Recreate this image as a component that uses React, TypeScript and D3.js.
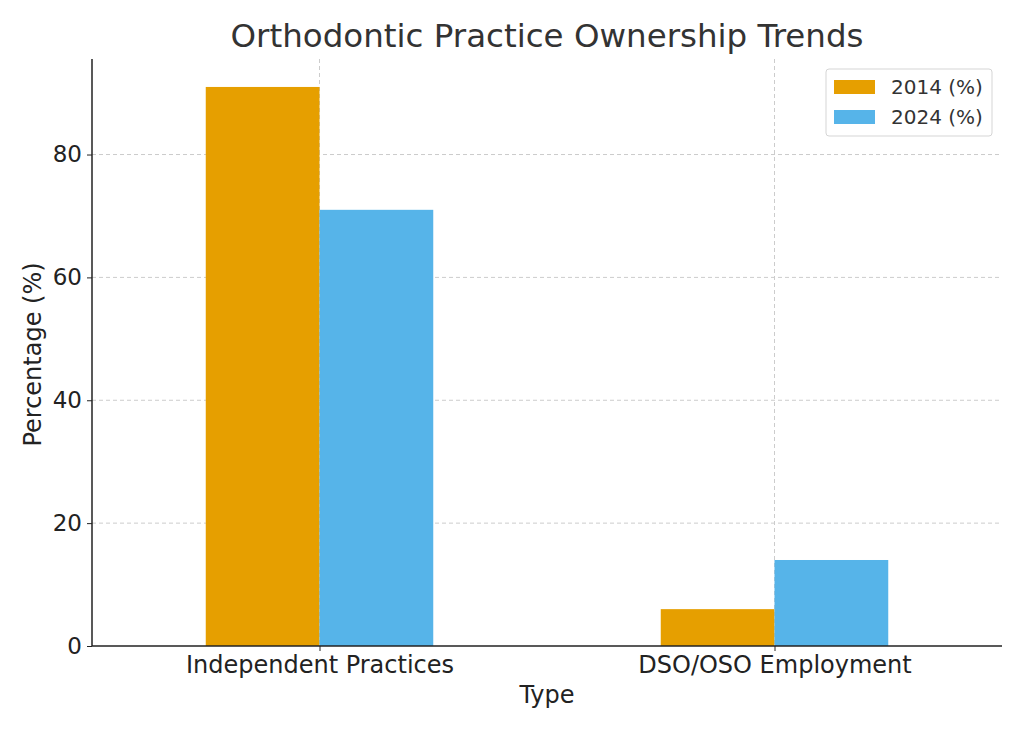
import React, { useEffect, useRef } from 'react';
import * as d3 from 'd3';

const categories = ['Independent Practices', 'DSO/OSO Employment'];
const seriesNames = ['2014 (%)', '2024 (%)'];
const values2014 = [91, 6];
const values2024 = [71, 14];
const yTicks = [0, 20, 40, 60, 80];
const colors = ['#E69F00', '#56B4E9'];

const W = 1024;
const H = 731;
const margin = { top: 59, right: 22, bottom: 85, left: 92 };
const FONT = '"DejaVu Sans", sans-serif';

const App = () => {
  const svgRef = useRef<SVGSVGElement | null>(null);

  useEffect(() => {
    if (!svgRef.current) return;
    const svg = d3.select(svgRef.current);
    svg.selectAll('*').remove();

    const iw = W - margin.left - margin.right;
    const ih = H - margin.top - margin.bottom;

    const x = d3.scaleLinear().domain([-0.5, categories.length - 0.5]).range([0, iw]);
    const y = d3.scaleLinear().domain([0, 95.55]).range([ih, 0]);
    const barW = x(0.25) - x(0);

    svg.append('rect').attr('width', W).attr('height', H).attr('fill', '#fff');

    const g = svg.append('g').attr('transform', `translate(${margin.left},${margin.top})`);

    // grid
    g.selectAll('.hgrid')
      .data(yTicks.slice(1))
      .enter().append('line')
      .attr('x1', 0).attr('x2', iw)
      .attr('y1', d => y(d)).attr('y2', d => y(d))
      .attr('stroke', '#cccccc').attr('stroke-width', 1)
      .attr('stroke-dasharray', '4,3');

    g.selectAll('.vgrid')
      .data(categories)
      .enter().append('line')
      .attr('x1', (d, i) => x(i)).attr('x2', (d, i) => x(i))
      .attr('y1', 0).attr('y2', ih)
      .attr('stroke', '#cccccc').attr('stroke-width', 1)
      .attr('stroke-dasharray', '4,3');

    // bars
    const series = [values2014, values2024];
    series.forEach((vals, s) => {
      g.selectAll(`.bar${s}`)
        .data(vals)
        .enter().append('rect')
        .attr('x', (d, i) => x(i) + (s - 1) * barW)
        .attr('width', barW)
        .attr('y', d => y(d))
        .attr('height', d => ih - y(d))
        .attr('fill', colors[s]);
    });

    // axes
    const yAxis = g.append('g')
      .call(d3.axisLeft(y).tickValues(yTicks).tickSize(5).tickPadding(5));
    yAxis.select('.domain').remove();
    yAxis.selectAll('text').style('font-family', FONT).style('font-size', '23px').attr('fill', '#222');
    yAxis.selectAll('line').attr('stroke', '#222');

    const xAxis = g.append('g')
      .attr('transform', `translate(0,${ih})`)
      .call(d3.axisBottom(x).tickValues(categories.map((c, i) => i))
        .tickFormat((d: any) => categories[d]).tickSize(5).tickPadding(5));
    xAxis.select('.domain').remove();
    xAxis.selectAll('text').style('font-family', FONT).style('font-size', '24px').attr('fill', '#222');
    xAxis.selectAll('line').attr('stroke', '#222');

    // spines
    g.append('line').attr('x1', 0).attr('x2', 0).attr('y1', 0).attr('y2', ih)
      .attr('stroke', '#222').attr('stroke-width', 1.5);
    g.append('line').attr('x1', 0).attr('x2', iw).attr('y1', ih).attr('y2', ih)
      .attr('stroke', '#222').attr('stroke-width', 1.5);

    // labels
    svg.append('text')
      .attr('x', margin.left + iw / 2).attr('y', 47)
      .attr('text-anchor', 'middle')
      .style('font-family', FONT).style('font-size', '32.5px')
      .attr('fill', '#333')
      .text('Orthodontic Practice Ownership Trends');

    svg.append('text')
      .attr('x', margin.left + iw / 2).attr('y', 703)
      .attr('text-anchor', 'middle')
      .style('font-family', FONT).style('font-size', '24px')
      .attr('fill', '#222')
      .text('Type');

    svg.append('text')
      .attr('transform', `translate(41,${margin.top + ih / 2 + 2}) rotate(-90)`)
      .attr('text-anchor', 'middle')
      .style('font-family', FONT).style('font-size', '24px')
      .attr('fill', '#222')
      .text('Percentage (%)');

    // legend
    const lg = svg.append('g').attr('transform', 'translate(826,69)');
    lg.append('rect').attr('width', 166).attr('height', 67).attr('rx', 3)
      .attr('fill', '#fff').attr('fill-opacity', 0.8)
      .attr('stroke', '#d5d5d5');
    seriesNames.forEach((name, i) => {
      const yy = 17 + i * 30;
      lg.append('rect').attr('x', 8).attr('y', yy - 6).attr('width', 41).attr('height', 14)
        .attr('fill', colors[i]);
      lg.append('text').attr('x', 65).attr('y', yy + 8)
        .style('font-family', FONT).style('font-size', '20px')
        .attr('fill', '#333')
        .text(name);
    });
  }, []);

  return (
    <svg ref={svgRef} width={W} height={H}
      style={{ position: 'absolute', left: 0, top: 0, display: 'block' }} />
  );
};

export default App;
